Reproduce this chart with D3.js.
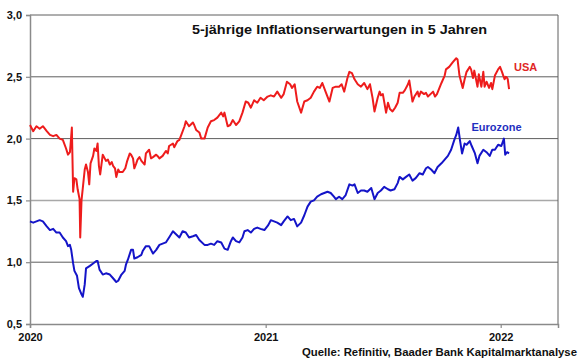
<!DOCTYPE html>
<html><head><meta charset="utf-8">
<script src="https://cdn.jsdelivr.net/npm/d3@7"></script>
<style>body{margin:0;background:#fff}svg{display:block;font-family:"Liberation Sans",Arial,sans-serif}</style>
</head><body><svg id="c" width="580" height="359"></svg>
<script>
const title = "5-jährige Inflationserwartungen in 5 Jahren";
const source = "Quelle: Refinitiv, Baader Bank Kapitalmarktanalyse";
const seriesNames = ["USA", "Eurozone"];
const yTicks = [0.5, 1.0, 1.5, 2.0, 2.5, 3.0];
const xTicks = ["2020-01-01", "2021-01-01", "2022-01-01"];

const usaDates = ["2020-01-01","2020-01-06","2020-01-11","2020-01-16","2020-01-21","2020-01-27","2020-02-01","2020-02-06","2020-02-11","2020-02-16","2020-02-21","2020-02-26","2020-02-29","2020-03-03","2020-03-04","2020-03-06","2020-03-08","2020-03-10","2020-03-13","2020-03-15","2020-03-18","2020-03-19","2020-03-21","2020-03-23","2020-03-26","2020-03-28","2020-03-31","2020-04-02","2020-04-04","2020-04-08","2020-04-10","2020-04-13","2020-04-15","2020-04-17","2020-04-19","2020-04-23","2020-04-26","2020-04-28","2020-05-01","2020-05-04","2020-05-07","2020-05-09","2020-05-12","2020-05-14","2020-05-17","2020-05-19","2020-05-24","2020-05-28","2020-05-31","2020-06-04","2020-06-06","2020-06-09","2020-06-11","2020-06-14","2020-06-16","2020-06-19","2020-06-22","2020-06-27","2020-06-29","2020-07-04","2020-07-07","2020-07-10","2020-07-15","2020-07-17","2020-07-20","2020-07-25","2020-07-30","2020-08-02","2020-08-04","2020-08-07","2020-08-10","2020-08-12","2020-08-17","2020-08-20","2020-08-23","2020-08-28","2020-08-30","2020-09-04","2020-09-10","2020-09-12","2020-09-15","2020-09-20","2020-09-23","2020-09-28","2020-10-03","2020-10-08","2020-10-13","2020-10-18","2020-10-24","2020-10-27","2020-10-29","2020-11-03","2020-11-07","2020-11-11","2020-11-16","2020-11-21","2020-11-26","2020-12-01","2020-12-05","2020-12-09","2020-12-14","2020-12-19","2020-12-24","2020-12-29","2021-01-04","2021-01-09","2021-01-14","2021-01-19","2021-01-25","2021-01-29","2021-02-03","2021-02-08","2021-02-11","2021-02-15","2021-02-19","2021-02-25","2021-03-02","2021-03-07","2021-03-12","2021-03-17","2021-03-22","2021-03-26","2021-03-30","2021-04-04","2021-04-10","2021-04-15","2021-04-20","2021-04-25","2021-04-29","2021-05-03","2021-05-08","2021-05-11","2021-05-15","2021-05-19","2021-05-24","2021-05-29","2021-06-03","2021-06-08","2021-06-12","2021-06-16","2021-06-19","2021-06-24","2021-06-27","2021-06-29","2021-07-02","2021-07-07","2021-07-10","2021-07-13","2021-07-17","2021-07-21","2021-07-25","2021-07-28","2021-08-02","2021-08-05","2021-08-10","2021-08-12","2021-08-15","2021-08-17","2021-08-20","2021-08-25","2021-08-27","2021-08-30","2021-09-04","2021-09-07","2021-09-10","2021-09-14","2021-09-18","2021-09-21","2021-09-24","2021-10-01","2021-10-06","2021-10-08","2021-10-13","2021-10-19","2021-10-24","2021-10-26","2021-10-29","2021-11-03","2021-11-06","2021-11-09","2021-11-14","2021-11-16","2021-11-19","2021-11-21","2021-11-26","2021-11-28","2021-12-02","2021-12-05","2021-12-07","2021-12-10","2021-12-14","2021-12-17","2021-12-19","2021-12-23","2021-12-28","2021-12-31","2022-01-03","2022-01-05","2022-01-07","2022-01-09","2022-01-11","2022-01-12","2022-01-14"];
const usaValues = [2.11,2.06,2.10,2.08,2.10,2.06,2.03,2.02,2.03,2.00,1.99,1.92,1.87,1.89,1.95,2.09,1.57,1.68,1.67,1.59,1.51,1.20,1.50,1.60,1.75,1.79,1.73,1.63,1.80,1.86,1.92,1.90,1.96,1.78,1.71,1.87,1.84,1.82,1.83,1.79,1.81,1.78,1.76,1.69,1.75,1.73,1.73,1.76,1.82,1.88,1.87,1.84,1.76,1.80,1.83,1.85,1.82,1.79,1.88,1.91,1.84,1.85,1.87,1.86,1.84,1.86,1.90,1.88,1.94,1.95,1.96,1.93,1.98,1.99,2.03,2.10,2.14,2.10,2.13,2.11,2.07,2.05,2.00,2.00,2.09,2.14,2.15,2.17,2.21,2.18,2.21,2.10,2.11,2.15,2.11,2.14,2.21,2.30,2.29,2.25,2.31,2.29,2.33,2.31,2.34,2.35,2.34,2.38,2.33,2.36,2.46,2.44,2.41,2.44,2.30,2.21,2.30,2.31,2.33,2.38,2.42,2.41,2.45,2.38,2.30,2.41,2.42,2.42,2.44,2.38,2.49,2.54,2.53,2.48,2.44,2.42,2.45,2.40,2.44,2.33,2.22,2.33,2.38,2.35,2.36,2.21,2.29,2.24,2.22,2.25,2.29,2.37,2.37,2.39,2.44,2.47,2.37,2.30,2.34,2.38,2.34,2.38,2.36,2.37,2.34,2.36,2.38,2.34,2.36,2.45,2.51,2.56,2.58,2.62,2.65,2.64,2.51,2.41,2.48,2.54,2.58,2.56,2.49,2.55,2.42,2.52,2.42,2.54,2.42,2.46,2.41,2.45,2.40,2.51,2.56,2.58,2.54,2.51,2.48,2.50,2.49,2.48,2.40];

const euDates = ["2020-01-01","2020-01-06","2020-01-11","2020-01-16","2020-01-21","2020-01-27","2020-02-01","2020-02-06","2020-02-11","2020-02-16","2020-02-21","2020-02-26","2020-02-29","2020-03-03","2020-03-05","2020-03-08","2020-03-10","2020-03-14","2020-03-17","2020-03-21","2020-03-23","2020-03-26","2020-03-28","2020-04-03","2020-04-08","2020-04-13","2020-04-15","2020-04-18","2020-04-23","2020-04-28","2020-05-04","2020-05-09","2020-05-14","2020-05-17","2020-05-22","2020-05-27","2020-05-29","2020-06-01","2020-06-06","2020-06-09","2020-06-11","2020-06-16","2020-06-22","2020-06-24","2020-06-29","2020-07-04","2020-07-10","2020-07-15","2020-07-20","2020-07-25","2020-07-30","2020-08-04","2020-08-10","2020-08-14","2020-08-20","2020-08-25","2020-08-30","2020-09-04","2020-09-10","2020-09-15","2020-09-20","2020-09-28","2020-10-03","2020-10-08","2020-10-13","2020-10-18","2020-10-24","2020-10-29","2020-11-03","2020-11-08","2020-11-11","2020-11-16","2020-11-21","2020-11-26","2020-11-29","2020-12-04","2020-12-09","2020-12-14","2020-12-19","2020-12-24","2020-12-30","2021-01-05","2021-01-09","2021-01-14","2021-01-19","2021-01-25","2021-01-29","2021-02-04","2021-02-09","2021-02-14","2021-02-19","2021-02-25","2021-03-02","2021-03-07","2021-03-12","2021-03-17","2021-03-22","2021-03-28","2021-04-02","2021-04-07","2021-04-12","2021-04-17","2021-04-20","2021-04-25","2021-04-30","2021-05-05","2021-05-11","2021-05-16","2021-05-19","2021-05-24","2021-05-29","2021-06-03","2021-06-08","2021-06-14","2021-06-19","2021-06-24","2021-06-29","2021-07-04","2021-07-10","2021-07-14","2021-07-20","2021-07-25","2021-07-28","2021-08-02","2021-08-07","2021-08-12","2021-08-17","2021-08-22","2021-08-28","2021-09-02","2021-09-07","2021-09-10","2021-09-15","2021-09-20","2021-09-25","2021-10-01","2021-10-06","2021-10-11","2021-10-16","2021-10-21","2021-10-24","2021-10-27","2021-10-30","2021-11-02","2021-11-06","2021-11-09","2021-11-14","2021-11-17","2021-11-22","2021-11-26","2021-11-29","2021-12-05","2021-12-10","2021-12-15","2021-12-19","2021-12-23","2021-12-28","2022-01-02","2022-01-06","2022-01-08","2022-01-11","2022-01-14"];
const euValues = [1.33,1.32,1.33,1.34,1.33,1.29,1.26,1.27,1.24,1.24,1.20,1.17,1.13,1.14,1.10,0.99,0.93,0.89,0.79,0.74,0.72,0.82,0.95,0.97,0.99,1.01,1.01,0.94,0.90,0.91,0.90,0.87,0.84,0.85,0.90,0.93,0.98,1.02,1.10,1.10,1.03,1.04,1.06,1.09,1.13,1.13,1.07,1.10,1.14,1.15,1.16,1.20,1.25,1.23,1.20,1.25,1.24,1.20,1.21,1.22,1.18,1.14,1.14,1.15,1.14,1.17,1.16,1.11,1.10,1.17,1.20,1.17,1.16,1.20,1.25,1.26,1.24,1.27,1.28,1.27,1.26,1.30,1.34,1.33,1.32,1.30,1.33,1.37,1.34,1.35,1.29,1.32,1.38,1.45,1.49,1.50,1.53,1.55,1.56,1.57,1.56,1.53,1.51,1.53,1.51,1.54,1.63,1.62,1.63,1.56,1.58,1.58,1.57,1.60,1.51,1.56,1.58,1.61,1.59,1.58,1.59,1.64,1.69,1.67,1.69,1.71,1.66,1.68,1.72,1.71,1.76,1.77,1.75,1.72,1.77,1.80,1.83,1.86,1.91,1.99,2.03,2.09,1.98,1.88,1.96,1.95,1.98,1.94,1.88,1.80,1.86,1.91,1.89,1.86,1.91,1.91,1.95,1.94,2.00,1.87,1.89,1.88];

const parse = d3.utcParse("%Y-%m-%d");
const svg = d3.select("#c");
const L = 30, R = 558, T = 15, B = 324;
const x = d3.scaleUtc().domain([parse("2020-01-01"), parse("2022-03-31")]).range([L, R]);
const y = d3.scaleLinear().domain([0.5, 3.0]).range([B, T]);

// gridlines
svg.append("g").selectAll("line").data(yTicks.filter(v => v > 0.5)).join("line")
  .attr("x1", L).attr("x2", R).attr("y1", d => y(d)).attr("y2", d => y(d))
  .attr("stroke", d => d === 1.5 ? "#a8a8a8" : "#5e5e5e")
  .attr("stroke-width", d => d === 1.5 ? 1.5 : 1);
// right border
svg.append("line").attr("x1", R).attr("x2", R).attr("y1", T).attr("y2", B).attr("stroke", "#5e5e5e");

// axes
const yAxis = d3.axisLeft(y).tickValues(yTicks).tickSize(4).tickPadding(4)
  .tickFormat(d => d3.format(".1f")(d).replace(".", ","));
const gy = svg.append("g").attr("transform", `translate(${L},0)`).call(yAxis);
const xAxis = d3.axisBottom(x).tickValues(xTicks.map(parse)).tickSize(4).tickPadding(5)
  .tickFormat(d3.utcFormat("%Y"));
const gx = svg.append("g").attr("transform", `translate(0,${B})`).call(xAxis);
[gx, gy].forEach(g => {
  g.select(".domain").attr("stroke", "#8a8a8a").attr("stroke-width", 1.5);
  g.selectAll(".tick line").attr("stroke", "#8a8a8a").attr("stroke-width", 1.2);
  g.selectAll("text").attr("font-family", "Liberation Sans, Arial, sans-serif")
    .attr("font-size", 11).attr("font-weight", "bold").attr("fill", "#111");
});

// lines
const line = d3.line().x(d => x(d[0])).y(d => y(d[1]));
const usa = usaDates.map((d, i) => [parse(d), usaValues[i]]);
const eu = euDates.map((d, i) => [parse(d), euValues[i]]);
svg.append("path").datum(eu).attr("d", line).attr("fill", "none")
  .attr("stroke", "#1414c8").attr("stroke-width", 2).attr("stroke-linejoin", "round");
svg.append("path").datum(usa).attr("d", line).attr("fill", "none")
  .attr("stroke", "#ee1c1c").attr("stroke-width", 2).attr("stroke-linejoin", "round");

// labels
svg.append("text").attr("x", 192).attr("y", 33.5)
  .attr("font-size", 13.5).attr("font-weight", "bold").attr("fill", "#111")
  .attr("textLength", 295).attr("lengthAdjust", "spacingAndGlyphs").text(title);
svg.append("text").attr("x", 514).attr("y", 70.5)
  .attr("font-size", 11).attr("font-weight", "bold").attr("fill", "#e02626").text(seriesNames[0]);
svg.append("text").attr("x", 471.5).attr("y", 130.5)
  .attr("font-size", 11).attr("font-weight", "bold").attr("fill", "#1f2fc0").text(seriesNames[1]);
svg.append("text").attr("x", 302).attr("y", 355.5)
  .attr("font-size", 11.3).attr("font-weight", "bold").attr("fill", "#111")
  .attr("textLength", 275).attr("lengthAdjust", "spacingAndGlyphs").text(source);
</script></body></html>
